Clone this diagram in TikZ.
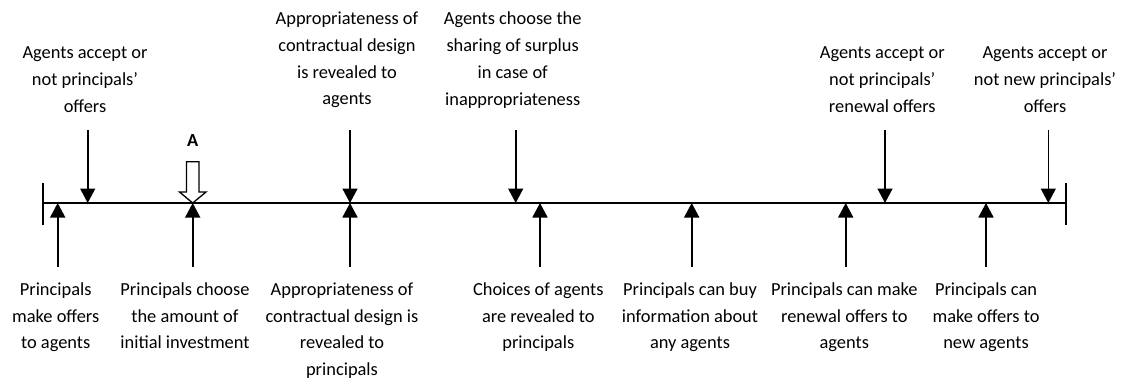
\documentclass[tikz,border=0pt]{standalone}
\usepackage{fontspec}
\setmainfont{Carlito}
\usetikzlibrary{arrows.meta}
\begin{document}
\begin{tikzpicture}[x=1pt,y=-1pt,
  lbl/.style={align=center, inner sep=0pt, anchor=north,
              font=\fontsize{18.4}{26.7}\selectfont},
  evt/.style={line width=1.6pt, -{Triangle[width=15pt,length=14.5pt]}},
  axis/.style={line width=1.6pt},
  hollow/.style={line width=1.3pt, fill=white, line join=miter}]
\useasboundingbox (0,0) rectangle (1121,380);

% time line with end ticks
\coordinate (L) at (42.7,203);
\coordinate (R) at (1065.7,203);
\coordinate (Ltop) at (42.7,183);
\coordinate (Lbot) at (42.7,225);
\coordinate (Rtop) at (1065.7,183);
\coordinate (Rbot) at (1065.7,225);
\draw[axis] (L) -- (R);
\draw[axis] (Ltop) -- (Lbot);
\draw[axis] (Rtop) -- (Rbot);

% events above the line (agents)
\foreach \n/\x in {a1/87.7, a3/350, a4/515.7, a5/885, a6/1048.3}{
  \coordinate (\n s) at (\x,130);
  \coordinate (\n e) at (\x,203);
}
% events below the line (principals)
\foreach \n/\x in {p1/57.7, p2/192.7, p3/350, p4/540, p5/691.7, p6/845.7, p7/986}{
  \coordinate (\n s) at (\x,267);
  \coordinate (\n e) at (\x,203);
}
\foreach \n in {a1,a3,a4,a5,a6,p1,p2,p3,p4,p5,p6,p7}{
  \draw[evt] (\n s) -- (\n e);
}

% hollow marker A
\draw[hollow] (186.5,161.7) -- (199,161.7) -- (199,192) -- (206,192)
  -- (192.7,203) -- (179.5,192) -- (186.5,192) -- cycle;
\node[font=\fontsize{18.4}{22}\selectfont\bfseries, inner sep=0pt] (A) at (192.7,140.5) {A};

% labels above
\node[lbl] (ta1) at (85,46.8) {Agents accept or\\not principals’\\offers};
\node[lbl] (ta3) at (347,12) {Appropriateness of\\contractual design\\is revealed to\\agents};
\node[lbl] (ta4) at (512.7,12) {Agents choose the\\sharing of surplus\\in case of\\inappropriateness};
\node[lbl] (ta5) at (882.3,46.8) {Agents accept or\\not principals’\\renewal offers};
\node[lbl] (ta6) at (1045,46.8) {Agents accept or\\not new principals’\\offers};

% labels below
\node[lbl] (tp1) at (55.7,282.5) {Principals\\make offers\\to agents};
\node[lbl] (tp2) at (185,282.5) {Principals choose\\the amount of\\initial investment};
\node[lbl] (tp3) at (342,282.5) {Appropriateness of\\contractual design is\\revealed to\\principals};
\node[lbl] (tp4) at (538.3,282.5) {Choices of agents\\are revealed to\\principals};
\node[lbl] (tp5) at (690,282.5) {Principals can buy\\information about\\any agents};
\node[lbl] (tp6) at (844.3,282.5) {Principals can make\\renewal offers to\\agents};
\node[lbl] (tp7) at (986,282.5) {Principals can\\make offers to\\new agents};
\end{tikzpicture}
\end{document}
